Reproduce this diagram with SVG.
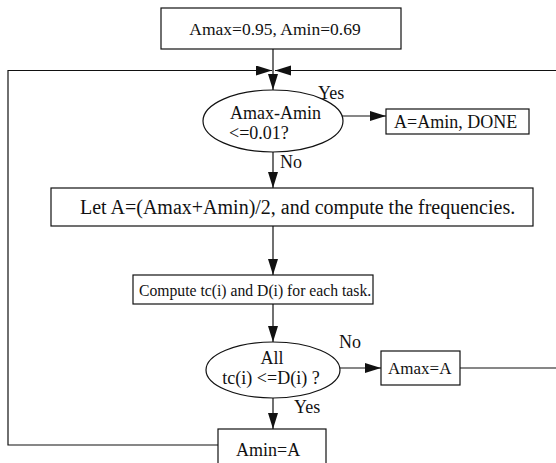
<svg xmlns="http://www.w3.org/2000/svg" width="556" height="463" viewBox="0 0 556 463">
<defs>
<marker id="arr" markerUnits="userSpaceOnUse" markerWidth="17" markerHeight="11" refX="16" refY="5" orient="auto">
<path d="M0,0 L16,5 L0,10 z" fill="#111"/>
</marker>
<style>
.box{fill:#fff;stroke:#111;stroke-width:1.2}
.t{font-family:"Liberation Serif","Times New Roman",serif;font-size:18px;fill:#111}
.c{text-anchor:middle}
.ln{fill:none;stroke:#111;stroke-width:1.2}
</style>
</defs>
<rect width="556" height="463" fill="#fff"/>
<g id="connectors">
<line class="ln" x1="273" y1="49" x2="273" y2="90" marker-end="url(#arr)"/>
<path class="ln" d="M218,445 H8 V70.5 H272" marker-end="url(#arr)"/>
<path class="ln" d="M460,368 H560 V70.5 H275" marker-end="url(#arr)"/>
<line class="ln" x1="342" y1="116" x2="386" y2="116" marker-end="url(#arr)"/>
<line class="ln" x1="273" y1="152" x2="273" y2="188" marker-end="url(#arr)"/>
<line class="ln" x1="273" y1="226" x2="273" y2="275" marker-end="url(#arr)"/>
<line class="ln" x1="273" y1="304" x2="273" y2="342" marker-end="url(#arr)"/>
<line class="ln" x1="339" y1="368" x2="381" y2="368" marker-end="url(#arr)"/>
<line class="ln" x1="273" y1="398" x2="273" y2="429" marker-end="url(#arr)"/>
<text class="t" x="318" y="99">Yes</text>
<text class="t" x="280" y="168">No</text>
<text class="t" x="339" y="348">No</text>
<text class="t" x="294" y="413">Yes</text>
</g>
<g id="init">
<rect class="box" x="161" y="8" width="240" height="41"/>
<text class="t c" x="275" y="35" style="font-size:17.5px">Amax=0.95, Amin=0.69</text>
</g>
<g id="check-done">
<ellipse class="box" cx="273" cy="121" rx="70" ry="31"/>
<text class="t" x="230" y="119">Amax-Amin</text>
<text class="t" x="229" y="139">&lt;=0.01?</text>
</g>
<g id="done">
<rect class="box" x="386" y="109" width="143" height="25"/>
<text class="t" x="394" y="128">A=Amin, DONE</text>
</g>
<g id="compute-freq">
<rect class="box" x="51" y="188" width="482" height="38"/>
<text class="t" x="80" y="214" style="font-size:20px">Let A=(Amax+Amin)/2, and compute the frequencies.</text>
</g>
<g id="compute-tc">
<rect class="box" x="133" y="275" width="240" height="29"/>
<text class="t" x="139" y="296" style="font-size:15.7px">Compute tc(i) and D(i) for each task.</text>
</g>
<g id="check-deadline">
<ellipse class="box" cx="273" cy="370" rx="67" ry="28"/>
<text class="t c" x="272" y="364">All</text>
<text class="t c" x="271" y="384">tc(i) &lt;=D(i) ?</text>
</g>
<g id="set-amax">
<rect class="box" x="381" y="351" width="79" height="34"/>
<text class="t" x="388" y="374" style="font-size:17px">Amax=A</text>
</g>
<g id="set-amin">
<rect class="box" x="218" y="429" width="108" height="41"/>
<text class="t" x="236" y="456">Amin=A</text>
</g>
</svg>
